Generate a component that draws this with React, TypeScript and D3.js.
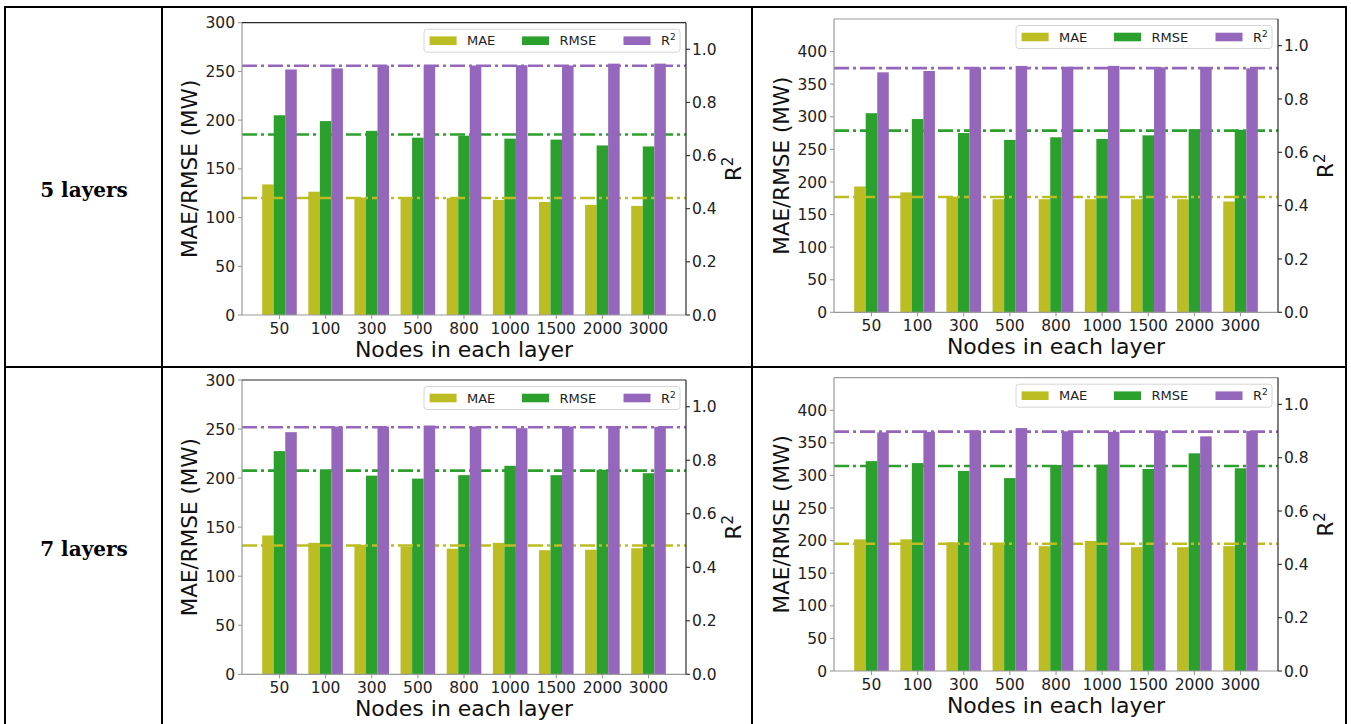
import React from 'react';
import * as d3 from 'd3';

// Hidden-layer sizes on the x axis
const nodeCounts = ['50', '100', '300', '500', '800', '1000', '1500', '2000', '3000'];
const rowLabels = ['5 layers', '7 layers'];

const errorTicksShort = [0, 50, 100, 150, 200, 250, 300];
const errorTicksTall = [0, 50, 100, 150, 200, 250, 300, 350, 400];
const r2Ticks = [0, 0.2, 0.4, 0.6, 0.8, 1.0];

// 5 layers, left column
const maeFiveLeft = [134, 126.5, 120.5, 120.5, 120, 118, 116, 113, 112];
const rmseFiveLeft = [205, 199, 189, 182, 184, 181, 180, 174, 173];
const r2FiveLeft = [0.924, 0.928, 0.939, 0.939, 0.939, 0.94, 0.939, 0.946, 0.946];

// 5 layers, right column
const maeFiveRight = [193, 184, 177.5, 173.5, 173.5, 173.5, 173.5, 173.5, 170];
const rmseFiveRight = [305.5, 296.5, 275, 264.5, 268.5, 266, 271.5, 281, 280];
const r2FiveRight = [0.9, 0.905, 0.919, 0.924, 0.921, 0.924, 0.919, 0.915, 0.915];

// 7 layers, left column
const maeSevenLeft = [141.5, 134, 132, 130, 128, 134, 126.5, 127, 128.5];
const rmseSevenLeft = [227.5, 207.5, 202.5, 199.5, 203, 212.5, 203, 208.5, 205];
const r2SevenLeft = [0.905, 0.926, 0.926, 0.93, 0.926, 0.92, 0.926, 0.925, 0.925];

// 7 layers, right column
const maeSevenRight = [202, 202, 197.5, 194, 191.5, 199.5, 190, 190, 191.5];
const rmseSevenRight = [322, 319, 307, 296, 316, 316.5, 310, 334, 311];
const r2SevenRight = [0.895, 0.897, 0.902, 0.911, 0.899, 0.897, 0.9, 0.88, 0.9];

const COLOR_MAE = '#bcbd22';
const COLOR_RMSE = '#2ca02c';
const COLOR_R2 = '#9467bd';
const SANS = "'DejaVu Sans', Verdana, sans-serif";
const SERIF = "'DejaVu Serif', 'Liberation Serif', serif";
const GRAY = '#9a9a9a';
const DARK = '#2a2a2a';
const DASH = '15,4,3,4';

type Frame = { x0: number; x1: number; y0: number; y1: number };

type PanelProps = {
  frame: Frame;
  yMax: number;
  yTicks: number[];
  mae: number[];
  rmse: number[];
  r2: number[];
  darkTop: boolean;
};

function Panel({ frame, yMax, yTicks, mae, rmse, r2, darkTop }: PanelProps) {
  const { x0, x1, y0, y1 } = frame;
  const x = d3.scaleLinear().domain([-0.8125, 8.8125]).range([x0, x1]);
  const y = d3.scaleLinear().domain([0, yMax]).range([y1, y0]);
  const y2 = d3.scaleLinear().domain([0, 1.1]).range([y1, y0]);
  const bw = x(0.25) - x(0);

  const meanMae = d3.mean(mae) as number;
  const meanRmse = d3.mean(rmse) as number;
  const meanR2 = d3.mean(r2) as number;

  const bars = (values: number[], offset: number, scale: d3.ScaleLinear<number, number>, color: string, key: string) =>
    values.map((v, i) => (
      <rect
        key={`${key}-${i}`}
        x={x(i + offset) - bw / 2}
        width={bw}
        y={scale(v)}
        height={y1 - scale(v)}
        fill={color}
      />
    ));

  const hline = (yy: number, color: string) => (
    <line x1={x0} x2={x1} y1={yy} y2={yy} stroke={color} strokeWidth={2.6} strokeDasharray={DASH} />
  );

  const cy = (y0 + y1) / 2;
  const cx = (x0 + x1) / 2;

  // legend box anchored at upper right of the plot area
  const legW = 256;
  const legH = 23;
  const legX = x1 - 6 - legW;
  const legY = y0 + 6.5;
  const legMid = legY + legH / 2;
  const legendItems = [
    { label: 'MAE', color: COLOR_MAE, off: 5.6 },
    { label: 'RMSE', color: COLOR_RMSE, off: 98 },
    { label: 'R2', color: COLOR_R2, off: 199.5 },
  ];

  return (
    <g>
      {/* primary axis: MAE / RMSE */}
      {bars(mae, -0.25, y, COLOR_MAE, 'mae')}
      {bars(rmse, 0, y, COLOR_RMSE, 'rmse')}
      {hline(y(meanMae), COLOR_MAE)}
      {hline(y(meanRmse), COLOR_RMSE)}

      {/* secondary axis: R² */}
      {bars(r2, 0.25, y2, COLOR_R2, 'r2')}
      {hline(y2(meanR2), COLOR_R2)}

      {/* spines */}
      <line x1={x0} x2={x0} y1={y0} y2={y1} stroke={GRAY} strokeWidth={1.2} />
      <line x1={x0} x2={x1} y1={y1} y2={y1} stroke={GRAY} strokeWidth={1.2} />
      <line x1={x0} x2={x1} y1={y0} y2={y0} stroke={darkTop ? DARK : GRAY} strokeWidth={1.2} />
      <line x1={x1} x2={x1} y1={y0} y2={y1} stroke={DARK} strokeWidth={1.2} />

      {/* left ticks */}
      {yTicks.map((t) => (
        <g key={`yl-${t}`}>
          <line x1={x0 - 4} x2={x0} y1={y(t)} y2={y(t)} stroke={GRAY} strokeWidth={1.1} />
          <text x={x0 - 7} y={y(t) + 5.6} textAnchor="end" fontFamily={SANS} fontSize={15.5} fill="#222">
            {t}
          </text>
        </g>
      ))}

      {/* right ticks */}
      {r2Ticks.map((t) => (
        <g key={`yr-${t}`}>
          <line x1={x1} x2={x1 + 4} y1={y2(t)} y2={y2(t)} stroke={DARK} strokeWidth={1.1} />
          <text x={x1 + 6} y={y2(t) + 5.6} textAnchor="start" fontFamily={SANS} fontSize={15.5} fill="#222">
            {t.toFixed(1)}
          </text>
        </g>
      ))}

      {/* x ticks */}
      {nodeCounts.map((n, i) => (
        <g key={`x-${n}`}>
          <line x1={x(i)} x2={x(i)} y1={y1} y2={y1 + 4} stroke={GRAY} strokeWidth={1.1} />
          <text x={x(i)} y={y1 + 18.6} textAnchor="middle" fontFamily={SANS} fontSize={15.5} fill="#222">
            {n}
          </text>
        </g>
      ))}

      {/* axis titles */}
      <text x={cx} y={y1 + 41.5} textAnchor="middle" fontFamily={SANS} fontSize={22} fill="#111">
        Nodes in each layer
      </text>
      <text
        transform={`translate(${x0 - 45},${cy}) rotate(-90)`}
        textAnchor="middle"
        fontFamily={SANS}
        fontSize={21.5}
        fill="#111"
      >
        MAE/RMSE (MW)
      </text>
      <text
        transform={`translate(${x1 + 55},${cy}) rotate(-90)`}
        textAnchor="middle"
        fontFamily={SANS}
        fontSize={21.5}
        fill="#111"
      >
        R<tspan fontSize={15} dy={-8}>2</tspan>
      </text>

      {/* legend */}
      <rect x={legX} y={legY} width={legW} height={legH} rx={3} fill="#fff" fillOpacity={0.8} stroke="#d6d6d6" strokeWidth={1} />
      {legendItems.map((it) => (
        <g key={it.label}>
          <rect x={legX + it.off} y={legMid - 4.3} width={27} height={8.6} fill={it.color} />
          <text x={legX + it.off + 37.4} y={legMid + 4.7} fontFamily={SANS} fontSize={13} fill="#222">
            {it.label === 'R2' ? (
              <>
                R<tspan fontSize={9} dy={-5}>2</tspan>
              </>
            ) : (
              it.label
            )}
          </text>
        </g>
      ))}
    </g>
  );
}

export default function App() {
  const W = 1351;
  const H = 724;
  const frames: Frame[] = [
    { x0: 242, x1: 686, y0: 22.7, y1: 315 },
    { x0: 834, x1: 1278, y0: 19, y1: 312.3 },
    { x0: 242, x1: 686, y0: 380, y1: 674.3 },
    { x0: 834, x1: 1278, y0: 377.7, y1: 671 },
  ];
  return (
    <div style={{ position: 'absolute', left: 0, top: 0 }}>
      <svg width={W} height={H} viewBox={`0 0 ${W} ${H}`} style={{ display: 'block', background: '#fff' }}>
        <rect width={W} height={H} fill="#fff" />

        {/* table grid */}
        <g stroke="#000" strokeWidth={2}>
          <line x1={4} x2={1347} y1={7} y2={7} />
          <line x1={4} x2={1347} y1={367} y2={367} />
          <line x1={5} x2={5} y1={6} y2={724} />
          <line x1={162} x2={162} y1={6} y2={724} />
          <line x1={752} x2={752} y1={6} y2={724} />
          <line x1={1346} x2={1346} y1={6} y2={724} />
        </g>

        <text x={84} y={197} textAnchor="middle" fontFamily={SERIF} fontWeight="bold" fontSize={20} fill="#000">
          {rowLabels[0]}
        </text>
        <text x={84} y={556} textAnchor="middle" fontFamily={SERIF} fontWeight="bold" fontSize={20} fill="#000">
          {rowLabels[1]}
        </text>

        <Panel frame={frames[0]} yMax={300} yTicks={errorTicksShort} mae={maeFiveLeft} rmse={rmseFiveLeft} r2={r2FiveLeft} darkTop={true} />
        <Panel frame={frames[1]} yMax={450} yTicks={errorTicksTall} mae={maeFiveRight} rmse={rmseFiveRight} r2={r2FiveRight} darkTop={false} />
        <Panel frame={frames[2]} yMax={300} yTicks={errorTicksShort} mae={maeSevenLeft} rmse={rmseSevenLeft} r2={r2SevenLeft} darkTop={true} />
        <Panel frame={frames[3]} yMax={450} yTicks={errorTicksTall} mae={maeSevenRight} rmse={rmseSevenRight} r2={r2SevenRight} darkTop={false} />
      </svg>
    </div>
  );
}
